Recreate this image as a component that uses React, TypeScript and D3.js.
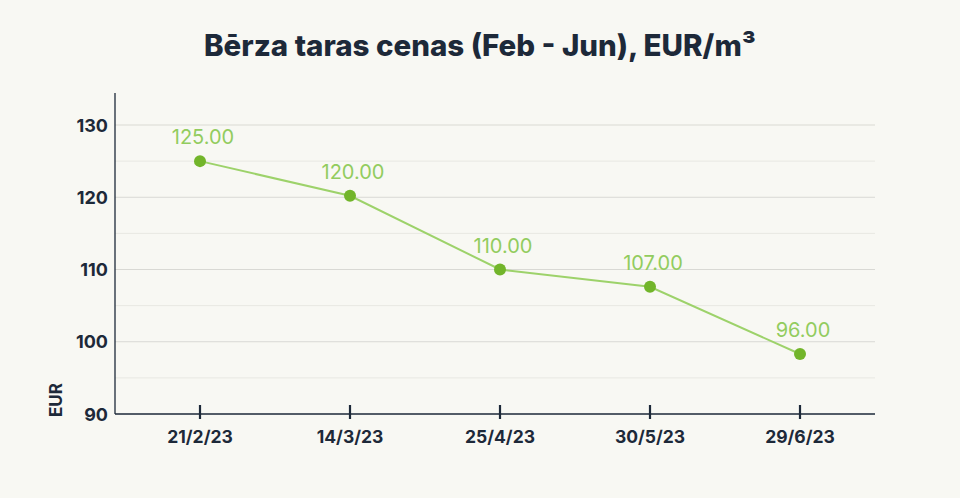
import React from "react";
import { scaleLinear, scalePoint, line } from "d3";

const dates = ["21/2/23", "14/3/23", "25/4/23", "30/5/23", "29/6/23"];
// plotted positions
const prices = [125, 120.2, 110, 107.6, 98.3];
// labels printed above each point
const priceLabels = ["125.00", "120.00", "110.00", "107.00", "96.00"];
const yTicks = [90, 100, 110, 120, 130];
const yMinor = [95, 105, 115, 125];

const W = 960;
const H = 498;
const left = 115;
const right = 875;
const top = 93;
const bottom = 414;

const ink = "#1d2939";
const font = "Inter, 'Noto Sans', sans-serif";

export default function App() {
  const x = scalePoint<string>().domain(dates).range([200, 800]);
  const y = scaleLinear().domain([90, 130]).range([bottom, 125]);

  const path = line<number>()
    .x((_, i) => x(dates[i])!)
    .y((d) => y(d))(prices);

  return (
    <svg
      width={W}
      height={H}
      style={{ position: "absolute", left: 0, top: 0, background: "#f8f8f3" }}
      fontFamily={font}
    >
      <rect width={W} height={H} fill="#f8f8f3" />
      <text
        x={W / 2}
        y={56}
        textAnchor="middle"
        fontSize={29.5}
        fontWeight={800}
        fill={ink}
      >
        Bērza taras cenas (Feb - Jun), EUR/m³
      </text>

      {/* grid */}
      {yMinor.map((v) => (
        <line key={"m" + v} x1={left} x2={right} y1={y(v)} y2={y(v)} stroke="#e8e8e2" strokeWidth={1} />
      ))}
      {yTicks.slice(1).map((v) => (
        <line key={"g" + v} x1={left} x2={right} y1={y(v)} y2={y(v)} stroke="#d9d9d4" strokeWidth={1.2} />
      ))}

      {/* axes */}
      <line x1={left} x2={left} y1={top} y2={bottom} stroke={ink} strokeWidth={1.3} />
      <line x1={left} x2={right} y1={bottom} y2={bottom} stroke={ink} strokeWidth={1.3} />

      {yTicks.map((v) => (
        <text key={v} x={108} y={y(v) + 6.5} textAnchor="end" fontSize={18} fontWeight={700} fill={ink}>
          {v}
        </text>
      ))}
      <text
        transform={`translate(62,${400}) rotate(-90)`}
        textAnchor="middle"
        fontSize={17}
        fontWeight={700}
        fill={ink}
      >
        EUR
      </text>

      {dates.map((d) => (
        <g key={d} transform={`translate(${x(d)},0)`}>
          <line y1={405} y2={419} stroke={ink} strokeWidth={2.2} />
          <text y={443} textAnchor="middle" fontSize={17.5} fontWeight={700} fill={ink}>
            {d}
          </text>
        </g>
      ))}

      <path d={path ?? ""} fill="none" stroke="#9dd26a" strokeWidth={2} />
      {prices.map((v, i) => (
        <g key={i}>
          <circle cx={x(dates[i])} cy={y(v)} r={6} fill="#72b52a" />
          <text
            x={x(dates[i])! + 3}
            y={y(v) - 17}
            textAnchor="middle"
            fontSize={20}
            fill="#92cc5e"
          >
            {priceLabels[i]}
          </text>
        </g>
      ))}
    </svg>
  );
}
